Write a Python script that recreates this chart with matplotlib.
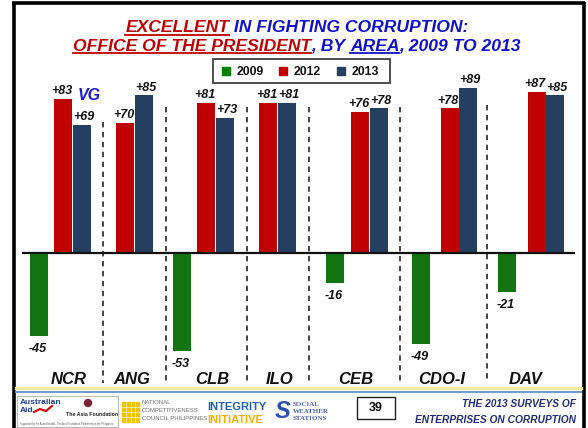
import matplotlib
matplotlib.use('Agg')
import matplotlib.pyplot as plt
from matplotlib.patches import Rectangle, Circle
import numpy as np

plt.rcParams['font.family'] = ['Liberation Sans', 'DejaVu Sans']

# data
areas = ['NCR', 'ANG', 'CLB', 'ILO', 'CEB', 'CDO-I', 'DAV']
years = ['2009', '2012', '2013']
v2009 = [-45, None, -53, None, -16, -49, -21]   # no 2009 figure for ANG / ILO
v2012 = [83, 70, 81, 81, 76, 78, 87]
v2013 = [69, 85, 73, 81, 78, 89, 85]
colors = ['#127512', '#C00000', '#243F60']

# layout, in pixels of the 588x428 slide
W, H = 588, 428
pair_x = [72.5, 134.5, 215.5, 277.5, 369.5, 459, 546]   # edge between 2012 and 2013 bar
green_x = [39, None, 182, None, 335, 421, 507]           # centre of 2009 bar
label_x = [69, 132, 212, 280, 356, 442, 526]
sep_x = [103, 166, 247, 309, 400, 487]
sep_top = [122, 107, 107, 107, 107, 105]
base_y = 253
ppu = 1.855          # pixels per percentage point
ax_top, ax_bot = 60, 390
ax_left, ax_right = 22, 575
bw = 18


def val(ypx):
    # slide pixel row -> chart value
    return (base_y - ypx) / ppu


fig = plt.figure(figsize=(W / 100, H / 100), dpi=100)

# decoration layer in slide pixels
deco = fig.add_axes([0, 0, 1, 1])
deco.set_xlim(0, W)
deco.set_ylim(H, 0)
deco.axis('off')

ax = fig.add_axes([ax_left / W, 1 - ax_bot / H, (ax_right - ax_left) / W, (ax_bot - ax_top) / H])
ax.set_xlim(ax_left, ax_right)
ax.set_ylim(val(ax_bot), val(ax_top))
ax.axis('off')

# bars
gi = [i for i, v in enumerate(v2009) if v is not None]
gx = [green_x[i] for i in gi]
gv = [v2009[i] for i in gi]
rx = np.array(pair_x) - bw / 2 - 0.25
nx = np.array(pair_x) + bw / 2 + 0.25
ax.bar(gx, gv, width=bw, color=colors[0], zorder=3)
ax.bar(rx, v2012, width=bw, color=colors[1], zorder=3)
ax.bar(nx, v2013, width=bw, color=colors[2], zorder=3)
ax.axhline(0, color='#111111', lw=1.6, zorder=4)

lab = dict(fontsize=9, fontweight='bold', fontstyle='italic', color='#111111')
for x, v in zip(rx, v2012):
    ax.annotate('+%d' % v, (x, v), xytext=(-1.3, 1.2), textcoords='offset points',
                ha='center', va='bottom', **lab)
for x, v in zip(nx, v2013):
    ax.annotate('+%d' % v, (x, v), xytext=(1.3, 1.2), textcoords='offset points',
                ha='center', va='bottom', **lab)
for x, v in zip(gx, gv):
    ax.annotate('%d' % v, (x - 1.5, v), xytext=(0, -5), textcoords='offset points',
                ha='center', va='top', **lab)

# dashed separators between areas
for x, t in zip(sep_x, sep_top):
    ax.plot([x, x], [val(t), val(383)], color='#111111', lw=1.1,
            linestyle=(0, (3.5, 3)), zorder=2)

for x, a in zip(label_x, areas):
    deco.text(x, 380, a, ha='center', va='center', fontsize=12,
              fontweight='bold', fontstyle='italic', color='#111111')

deco.text(89, 95, 'VG', ha='center', va='center', fontsize=11.5,
          fontweight='bold', fontstyle='italic', color='#1A1AD0')

# title with coloured, underlined parts
RED, BLUE = '#C00000', '#1010C8'
renderer = fig.canvas.get_renderer()


def text_width(s, size):
    kw = dict(fontsize=size, fontweight='bold', fontstyle='italic')
    a = deco.text(0, 0, 'x' + s + 'x', **kw)
    b = deco.text(0, 0, 'xx', **kw)
    w = a.get_window_extent(renderer).width - b.get_window_extent(renderer).width
    a.remove()
    b.remove()
    return w


def rich_line(y, parts, size):
    widths = [text_width(s, size) for s, c, u in parts]
    x = W / 2 - sum(widths) / 2 + 3
    for (s, c, u), w in zip(parts, widths):
        deco.text(x, y, s, color=c, fontsize=size, fontweight='bold',
                  fontstyle='italic', ha='left', va='baseline')
        if u:
            deco.plot([x, x + w], [y + 2.5, y + 2.5], color=c, lw=1.3)
        x += w


rich_line(32, [('EXCELLENT', RED, True), (' IN FIGHTING CORRUPTION:', BLUE, False)], 12.6)
rich_line(50.5, [('OFFICE OF THE PRESIDENT', RED, True), (', BY ', BLUE, False),
                 ('AREA', BLUE, True), (', 2009 TO 2013', BLUE, False)], 12.6)

# legend box
deco.add_patch(Rectangle((213, 59), 177, 24, fill=False, ec='#404040', lw=1.3))
for k, (x0, yr) in enumerate(zip([222, 279, 337], years)):
    deco.add_patch(Rectangle((x0, 67), 8, 8, color=['#008000', colors[1], colors[2]][k]))
    deco.text(x0 + 15, 71.5, yr, ha='left', va='center', fontsize=8.8,
              fontweight='bold', color='#111111')

# slide frame
deco.plot([12, 585], [3, 3], color='black', lw=2.6, solid_capstyle='butt')
deco.plot([13.5, 13.5], [2, H], color='black', lw=2.6, solid_capstyle='butt')
deco.plot([583.5, 583.5], [2, H], color='black', lw=2.6, solid_capstyle='butt')
deco.plot([16, 581], [388, 388], color='#F2EC9A', lw=2.4)
deco.plot([16, 581], [392, 392], color='#6E9BD2', lw=1.4)

# footer
deco.add_patch(Rectangle((17, 396), 101, 31, fill=False, ec='#BBBBBB', lw=0.8))
deco.text(20, 402, 'Australian', fontsize=6, fontweight='bold', color='#23408E', va='center')
deco.text(20, 411, 'Aid', fontsize=6, fontweight='bold', color='#23408E', va='center')
deco.plot([34, 40, 46, 52], [412, 409, 411, 406], color='#D01010', lw=1.6)
deco.add_patch(Circle((88, 403), 3.5, color='#7A2030'))
deco.text(66, 414, 'The Asia Foundation', fontsize=3.8, fontweight='bold', color='#222222', va='center')
deco.text(20, 424, 'Supported by the Australian Aid - The Asia Foundation Partnership in the Philippines',
          fontsize=1.8, color='#555555', va='center')

deco.add_patch(Rectangle((122, 402), 17, 20, color='#F5C400'))
for k in range(1, 4):
    deco.plot([122 + k * 4.25, 122 + k * 4.25], [402, 422], color='white', lw=0.4)
    deco.plot([122, 139], [402 + k * 5, 402 + k * 5], color='white', lw=0.4)
for k, s in enumerate(['NATIONAL', 'COMPETITIVENESS', 'COUNCIL PHILIPPINES']):
    deco.text(142, 403 + k * 7.5, s, fontsize=4.3, color='#707070', va='center')

deco.text(207, 407, 'INTEGRITY', fontsize=8, fontweight='bold', color='#1F5FBF', va='center')
deco.text(207, 420, 'INITIATIVE', fontsize=8, fontweight='bold', color='#F5B000', va='center')

deco.text(283, 412, 'S', fontsize=17, fontweight='bold', fontstyle='italic',
          color='#3050B0', ha='center', va='center')
for k, s in enumerate(['SOCIAL', 'WEATHER', 'STATIONS']):
    deco.text(293, 404 + k * 7.5, s, fontsize=5, fontweight='bold', color='#5060B0',
              va='center', family=['Liberation Serif', 'DejaVu Serif'])

deco.add_patch(Rectangle((357, 397), 38, 22, fill=False, ec='#222222', lw=1))
deco.text(376, 408, '39', fontsize=9, fontweight='bold', ha='center', va='center', color='#111111')

deco.text(576, 404, 'THE 2013 SURVEYS OF', fontsize=7.3, fontweight='bold', fontstyle='italic',
          color='#1F2A7A', ha='right', va='center')
deco.text(576, 420, 'ENTERPRISES ON CORRUPTION', fontsize=7.3, fontweight='bold', fontstyle='italic',
          color='#1F2A7A', ha='right', va='center')

fig.savefig('out.png', dpi=100)
